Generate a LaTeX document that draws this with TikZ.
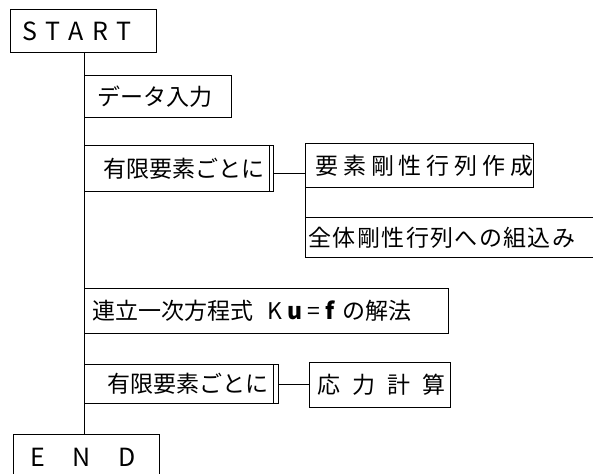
\documentclass[tikz,border=0pt]{standalone}
\usepackage{fontspec}
\setmainfont{Noto Sans CJK JP}
\newfontfamily\jp{Noto Sans CJK JP}
\newcommand{\jpsize}{\jp\fontsize{23}{26}\selectfont}
\begin{document}
\begin{tikzpicture}[x=1pt,y=-1pt,
  line width=1pt,
  box/.style={draw, line width=1pt, anchor=north west, inner ysep=0pt, align=left, font=\jpsize},
  conn/.style={draw, line width=1pt}]
\useasboundingbox (0,0) rectangle (593,473);
\clip (0,0) rectangle (593,473);
\node[box, inner xsep=12pt, text width=122pt, minimum height=43pt] (start) at (10,9)
  {\mbox{\fontsize{25}{28}\selectfont\addfontfeature{LetterSpace=35}START}};
\node[box, inner xsep=13pt, text width=121pt, minimum height=42pt] (data) at (84,75)
  {\mbox{データ入力}};
\node[box, inner xsep=19pt, text width=151pt, minimum height=46pt] (loop1) at (84,145)
  {\mbox{有限要素ごとに}};
\node[box, inner xsep=10pt, text width=208pt, minimum height=44pt] (elem) at (305,143)
  {\mbox{\addfontfeature{LetterSpace=21}要素剛性行列作成}};
\node[box, inner xsep=3pt, text width=289pt, minimum height=40pt] (glob) at (305,217)
  {\mbox{\addfontfeature{LetterSpace=6}全体剛性行列への組込み}};
\node[box, inner xsep=8pt, text width=348pt, minimum height=45pt] (solve) at (84,288)
  {\mbox{連立一次方程式\hspace{14pt}K\hspace{5pt}\textbf{u}\hspace{5pt}=\hspace{5pt}\textbf{f}\hspace{7pt}の解法}};
\node[box, inner xsep=23pt, text width=148pt, minimum height=39pt] (loop2) at (84,364)
  {\mbox{有限要素ごとに}};
\node[box, inner xsep=8pt, text width=125pt, minimum height=45pt] (stress) at (309,362)
  {\mbox{\addfontfeature{LetterSpace=52}応力計算}};
\node[box, inner xsep=17pt, text width=112pt, minimum height=46pt] (end) at (13,434)
  {\mbox{\fontsize{25}{28}\selectfont\addfontfeature{LetterSpace=110}END}};
% double right edges of loop boxes
\draw ([xshift=-5pt]loop1.north east) -- ([xshift=-5pt]loop1.south east);
\draw ([xshift=-6pt]loop2.north east) -- ([xshift=-6pt]loop2.south east);
% connectors
\path[conn] (start.south -| data.west) -- (end.north -| data.west);
\path[conn] ([yshift=-5pt]loop1.east) -- ([yshift=-5pt]loop1.east -| elem.west);
\path[conn] (elem.south west) -- (glob.north west);
\path[conn] (loop2.east) -- (loop2.east -| stress.west);
\end{tikzpicture}
\end{document}
